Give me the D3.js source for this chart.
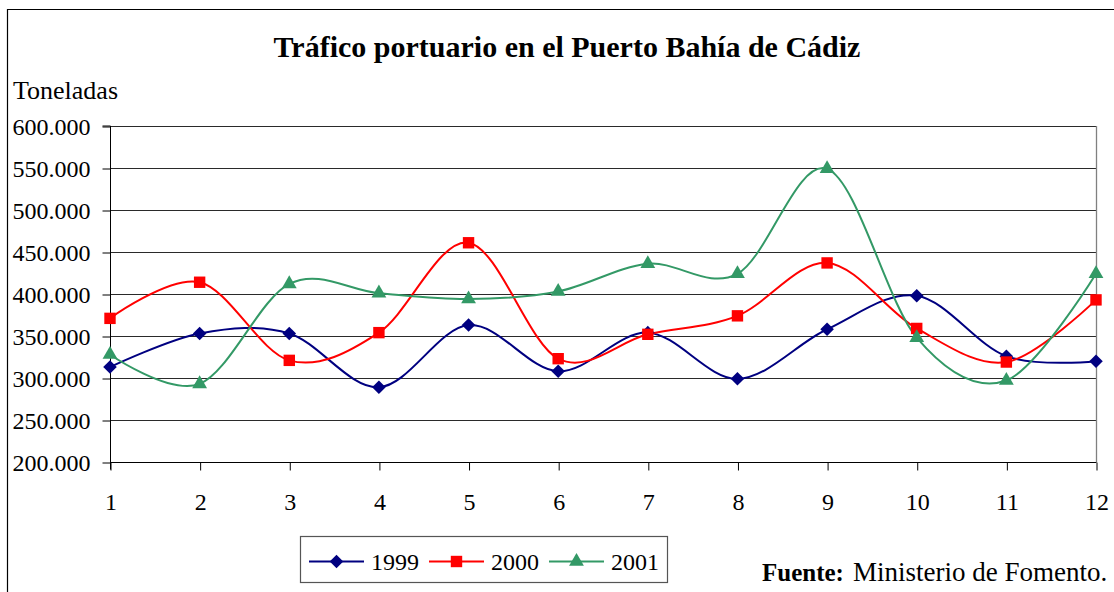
<!DOCTYPE html>
<html><head><meta charset="utf-8">
<script src="https://cdn.jsdelivr.net/npm/d3@7"></script>
<style>html,body{margin:0;padding:0;background:#fff;}svg{display:block;}svg text{font-family:"Liberation Serif","Times New Roman",serif;}</style>
</head><body>
<script>
const months = ["1","2","3","4","5","6","7","8","9","10","11","12"];
const seriesNames = ["1999","2000","2001"];
const v1999 = [313000,353000,353000,289000,363000,308000,354000,299000,358000,398000,326000,320000];
const v2000 = [371000,414000,321000,354000,461000,323000,352000,374000,437000,359000,319000,393000];
const v2001 = [328000,293000,412000,401000,394000,403000,436000,424000,549000,348000,297000,424000];
const yTicks = [200000,250000,300000,350000,400000,450000,500000,550000,600000];
const colors = ["#000080","#FF0000","#339966"];
const symbols = ["diamond","square","triangle"];
const title = "Tráfico portuario en el Puerto Bahía de Cádiz";
const yTitle = "Toneladas";

const W = 1114, H = 592;
const svg = d3.select("body").append("svg").attr("width", W).attr("height", H);
const loc = d3.formatLocale({decimal: ",", thousands: ".", grouping: [3], currency: ["", ""]});
const fmt = loc.format(",");

const x = d3.scalePoint().domain(months).range([110, 1096]);
const y = d3.scaleLinear().domain([200000, 600000]).range([462, 126]);

// outer chart border
svg.append("path").attr("d", `M7.5,${H+2} V9.5 H${W+2}`).attr("fill","none").attr("stroke","#000").attr("stroke-width",1.2);

// title
svg.append("text").attr("x", 567).attr("y", 57).attr("text-anchor","middle")
  .attr("font-size", 30).attr("font-weight","bold").text(title);
svg.append("text").attr("x", 13).attr("y", 99).attr("font-size", 26).text(yTitle);

// gridlines
svg.append("g").selectAll("line").data(yTicks.filter(d => d > 200000)).join("line")
  .attr("x1", 110).attr("x2", 1096)
  .attr("y1", d => Math.round(y(d)) + 0.5).attr("y2", d => Math.round(y(d)) + 0.5)
  .attr("stroke", "#2a2a2a").attr("stroke-width", 1);
// plot border right
svg.append("line").attr("x1", 1096.5).attr("x2", 1096.5).attr("y1", 126).attr("y2", 462)
  .attr("stroke", "#808080").attr("stroke-width", 1.3);

// y axis
const yAxis = svg.append("g").attr("transform", "translate(110.5,0.5)")
  .call(d3.axisLeft(y).tickValues(yTicks).tickFormat(fmt).tickSize(8).tickPadding(12));
yAxis.attr("font-family", null);
yAxis.select(".domain").attr("stroke","#000").attr("d", `M-8,${y(600000)-0.5}H0V${y(200000)+7}`);
yAxis.selectAll(".tick line").attr("stroke","#000");
yAxis.selectAll("text").attr("font-size", 24).attr("fill","#000").attr("x",-20).attr("dy","0.34em");

// x axis
const xAxis = svg.append("g").attr("transform", "translate(0.5,462.5)")
  .call(d3.axisBottom(x).tickSize(8).tickPadding(22));
xAxis.attr("font-family", null);
xAxis.select(".domain").attr("stroke","#000").attr("d", `M110,0H1096`);
xAxis.selectAll(".tick line").attr("stroke","#000");
xAxis.selectAll("text").attr("font-size", 24).attr("fill","#000").attr("dy","0.71em");

const data = [v1999, v2000, v2001];
const line = d3.line().x((d,i) => x(months[i])).y(d => y(d)).curve(d3.curveCardinal.tension(0));

function symPath(kind) {
  if (kind === "diamond") return d3.symbol(d3.symbolSquare, 92)();
  if (kind === "square") return d3.symbol(d3.symbolSquare, 130)();
  return d3.symbol(d3.symbolTriangle, 95)();
}
function symTransform(kind, cx, cy) {
  return kind === "diamond" ? `translate(${cx},${cy}) rotate(45)` : `translate(${cx},${cy})`;
}

data.forEach((vals, k) => {
  svg.append("path").datum(vals).attr("d", line).attr("fill","none")
    .attr("stroke", colors[k]).attr("stroke-width", 2);
});
data.forEach((vals, k) => {
  svg.append("g").selectAll("path").data(vals).join("path")
    .attr("d", symPath(symbols[k]))
    .attr("transform", (d,i) => symTransform(symbols[k], x(months[i]), y(d)))
    .attr("fill", colors[k]);
});

// legend
const lg = svg.append("g");
lg.append("rect").attr("x", 300.5).attr("y", 536.5).attr("width", 367).attr("height", 46)
  .attr("fill","#fff").attr("stroke","#555").attr("stroke-width",1.2);
const legX = [309, 429, 549];
seriesNames.forEach((n, k) => {
  const g = lg.append("g");
  g.append("line").attr("x1", legX[k]).attr("x2", legX[k] + 55).attr("y1", 561.5).attr("y2", 561.5)
    .attr("stroke", colors[k]).attr("stroke-width", 2);
  g.append("path").attr("d", symPath(symbols[k])).attr("transform", symTransform(symbols[k], legX[k] + 27.5, 561.5))
    .attr("fill", colors[k]);
  g.append("text").attr("x", legX[k] + 62).attr("y", 570).attr("font-size", 24).text(n);
});

// source
const src = svg.append("text").attr("x", 762).attr("y", 581);
src.append("tspan").attr("font-weight","bold").attr("font-size", 25).text("Fuente:");
src.append("tspan").attr("x", 853).attr("font-size", 27).text("Ministerio de Fomento.");
</script>
</body></html>
